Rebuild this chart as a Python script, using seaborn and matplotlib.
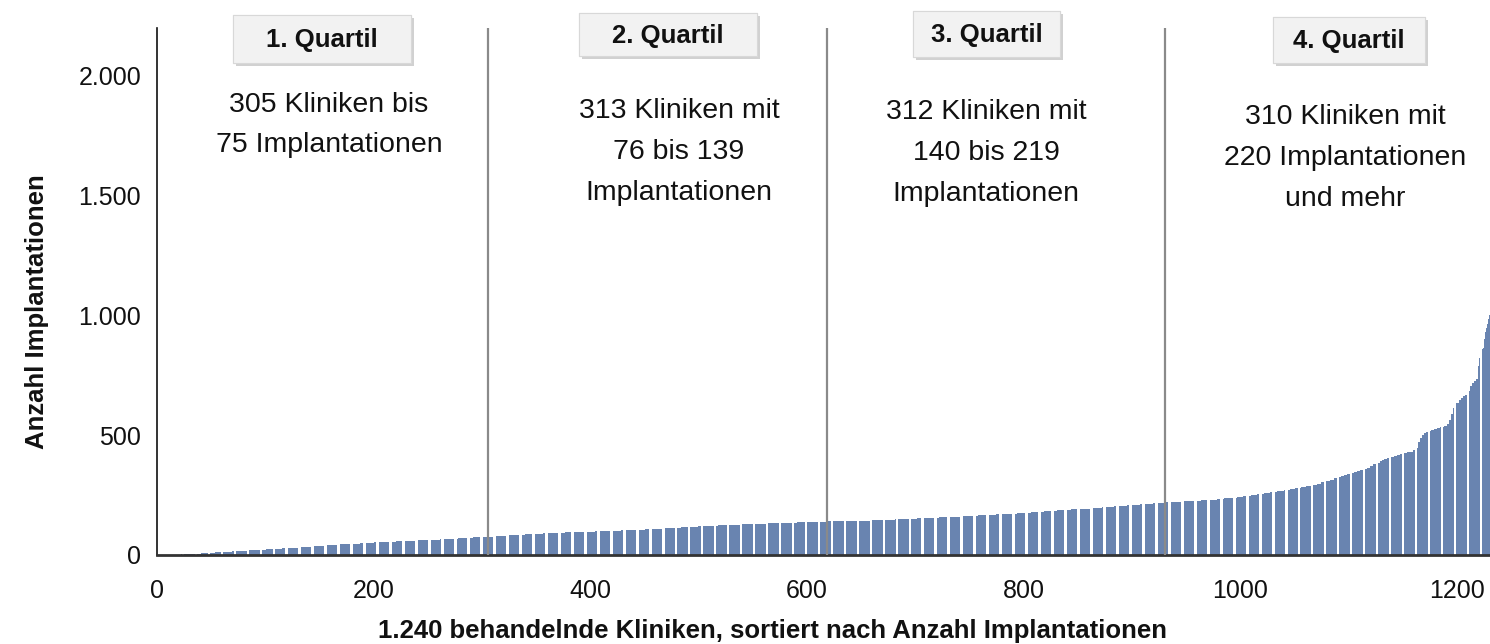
import numpy as np
import pandas as pd
import matplotlib.pyplot as plt
import matplotlib.patheffects as pe
from matplotlib.patches import Rectangle
import seaborn as sns

# *******************Daten: sortierte Kliniken (Implantationen je Stufe, Anzahl Kliniken je Stufe)
q1_stufen = [1, 2, 3, 5, 7, 10, 12, 14, 16, 18, 20, 22, 24, 26, 28, 30, 32, 34, 36, 38,
             40, 42, 44, 46, 48, 50, 52, 54, 56, 58, 60, 62, 64, 66, 68, 70, 72, 74, 75]
q1_anzahl = [12, 10, 11, 7, 6, 7, 8, 8, 8, 7, 8, 8, 7, 8, 8, 7, 8, 6, 5, 5,
             6, 6, 7, 7, 7, 7, 6, 10, 10, 10, 10, 11, 10, 8, 8, 7, 7, 7, 7]

q2_stufen = [76, 78, 80, 82, 84, 86, 88, 90, 92, 94, 96, 98, 100, 102, 104, 106, 108, 110,
             112, 114, 116, 118, 120, 122, 124, 126, 128, 130, 132, 134, 136, 139]
q2_anzahl = [6, 6, 7, 7, 8, 8, 9, 10, 10, 9, 9, 10, 12, 12, 12, 10, 8, 8,
             8, 9, 8, 8, 9, 9, 10, 11, 12, 13, 13, 14, 14, 14]

q3_stufen = [140, 142, 144, 146, 148, 150, 152, 154, 156, 158, 160, 162, 164, 166, 168, 170,
             172, 174, 176, 178, 180, 182, 184, 186, 188, 190, 192, 194, 196, 198, 200, 202,
             204, 206, 208, 210, 212, 214, 216, 219]
q3_anzahl = [14, 14, 12, 12, 11, 10, 10, 10, 10, 11, 9, 8, 8, 8, 9, 9,
             10, 7, 6, 6, 6, 6, 6, 6, 7, 6, 6, 6, 5, 6, 5, 6,
             6, 6, 6, 6, 6, 6, 6, 5]

q4_stufen = [220, 222, 224, 226, 228, 231, 234, 237, 240, 244, 248, 252, 256, 260, 264, 268,
             272, 276, 280, 284, 288, 292, 298, 304, 310, 315, 320, 325, 330, 334, 337, 342,
             346, 350, 354, 358, 365, 372, 379, 386, 392, 396, 400, 404, 408, 412, 416, 420,
             424, 428, 432, 440, 448, 470, 490, 500, 508, 514, 518, 522, 526, 530, 534, 538,
             545, 565, 590, 612, 633, 645, 655, 662, 667, 685, 706, 718, 728, 736, 790, 824,
             845, 858, 866, 900, 930, 946, 965, 985, 1001, 1040, 1080, 1120, 1170, 1230, 1300,
             1380, 1480, 1600, 1750]
q4_anzahl = [8, 9, 8, 8, 8, 7, 6, 6, 6, 6, 7, 6, 6, 6, 6, 7,
             5, 5, 5, 5, 5, 5, 4, 4, 4, 4, 3, 3, 3, 3, 3, 3,
             3, 3, 3, 3, 3, 3, 3, 3, 2, 2, 3, 3, 3, 3, 3, 3,
             3, 3, 3, 2, 2, 2, 2, 2, 2, 2, 2, 3, 3, 3, 3, 3,
             2, 2, 2, 2, 3, 2, 2, 2, 2, 2, 2, 2, 2, 2, 1, 1,
             1, 1, 1, 1, 1, 1, 1, 1, 1, 1, 1, 1, 1, 1, 1,
             1, 1, 1, 1]

quartil_titel = ["1. Quartil", "2. Quartil", "3. Quartil", "4. Quartil"]
quartil_text = ["305 Kliniken bis\n75 Implantationen",
                "313 Kliniken mit\n76 bis 139\nImplantationen",
                "312 Kliniken mit\n140 bis 219\nImplantationen",
                "310 Kliniken mit\n220 Implantationen\nund mehr"]
quartil_grenzen = [305, 618, 930]

x_ticks = [0, 200, 400, 600, 800, 1000, 1200]
y_ticks = [0, 500, 1000, 1500, 2000]
y_tick_labels = ["0", "500", "1.000", "1.500", "2.000"]

# *******************Daten zusammenbauen
stufen = q1_stufen + q2_stufen + q3_stufen + q4_stufen
anzahl = q1_anzahl + q2_anzahl + q3_anzahl + q4_anzahl
werte = np.repeat(stufen, anzahl)
assert len(werte) == 1240, len(werte)
df = pd.DataFrame({"Rang": np.arange(1, len(werte) + 1), "Implantationen": werte})

# *******************Plot
sns.set_theme(style="white")
plt.rcParams["font.family"] = ["Liberation Sans", "DejaVu Sans"]

W, H = 1490, 644
def fx(x):
    return x / W
def fy(y):
    return 1 - y / H

fig = plt.figure(figsize=(W / 100, H / 100), dpi=100)
ax = fig.add_axes([fx(157), fy(555), fx(1490) - fx(157), fy(28) - fy(555)])

sns.barplot(data=df, x="Rang", y="Implantationen", native_scale=True,
            color="#6984b0", saturation=1, width=0.8, linewidth=0,
            edgecolor="none", errorbar=None, ax=ax)

for g in quartil_grenzen:
    ax.axvline(g + 0.5, color="#8a8a8a", lw=1.6, zorder=3)

ax.set_xlim(0, 1230.3)
ax.set_ylim(0, 2200)
ax.set_xticks(x_ticks)
ax.set_xticklabels([str(t) for t in x_ticks])
ax.set_yticks(y_ticks)
ax.set_yticklabels(y_tick_labels)
ax.tick_params(axis="both", direction="out", length=5.5, width=1.2,
               colors="#111111", labelsize=18)
ax.tick_params(axis="x", pad=12)
ax.tick_params(axis="y", pad=6)

for s in ["top", "right"]:
    ax.spines[s].set_visible(False)
ax.spines["left"].set_color("#111111")
ax.spines["left"].set_linewidth(1.2)
ax.spines["bottom"].set_color("#333333")
ax.spines["bottom"].set_linewidth(2)

ax.set_xlabel("1.240 behandelnde Kliniken, sortiert nach Anzahl Implantationen",
              fontsize=18.5, fontweight="bold", color="#111111")
ax.set_ylabel("Anzahl Implantationen", fontsize=18.5, fontweight="bold", color="#111111")
ax.xaxis.set_label_coords(0.4614, -0.122)
ax.yaxis.set_label_coords(-0.081, 0.461)

# Quartil-Kaesten (x0, x1, y0, y1 in Pixel)
kasten = [(233, 411, 15, 63), (579, 757, 13, 56), (913, 1060, 11, 57), (1273, 1425, 17, 63)]
for titel, (x0, x1, y0, y1) in zip(quartil_titel, kasten):
    rect = Rectangle((fx(x0), fy(y1)), fx(x1) - fx(x0), fy(y0) - fy(y1),
                     transform=fig.transFigure, fc="#f2f2f2", ec="#d8d8d8", lw=0.8)
    rect.set_path_effects([pe.withSimplePatchShadow(offset=(2, -2), shadow_rgbFace="#9a9a9a", alpha=0.45),
                           pe.Normal()])
    fig.add_artist(rect)
    fig.text(fx((x0 + x1) / 2), fy((y0 + y1) / 2 + 1), titel, ha="center", va="center",
             fontsize=18.5, fontweight="bold", color="#111111")

# Beschreibungstexte
text_pos = [(329, 125), (679, 152), (986, 153), (1345, 158)]
for txt, (cx, cy) in zip(quartil_text, text_pos):
    fig.text(fx(cx), fy(cy), txt, ha="center", va="center", multialignment="center",
             fontsize=20.5, linespacing=1.75, color="#111111")

plt.savefig("out.png", dpi=100)
